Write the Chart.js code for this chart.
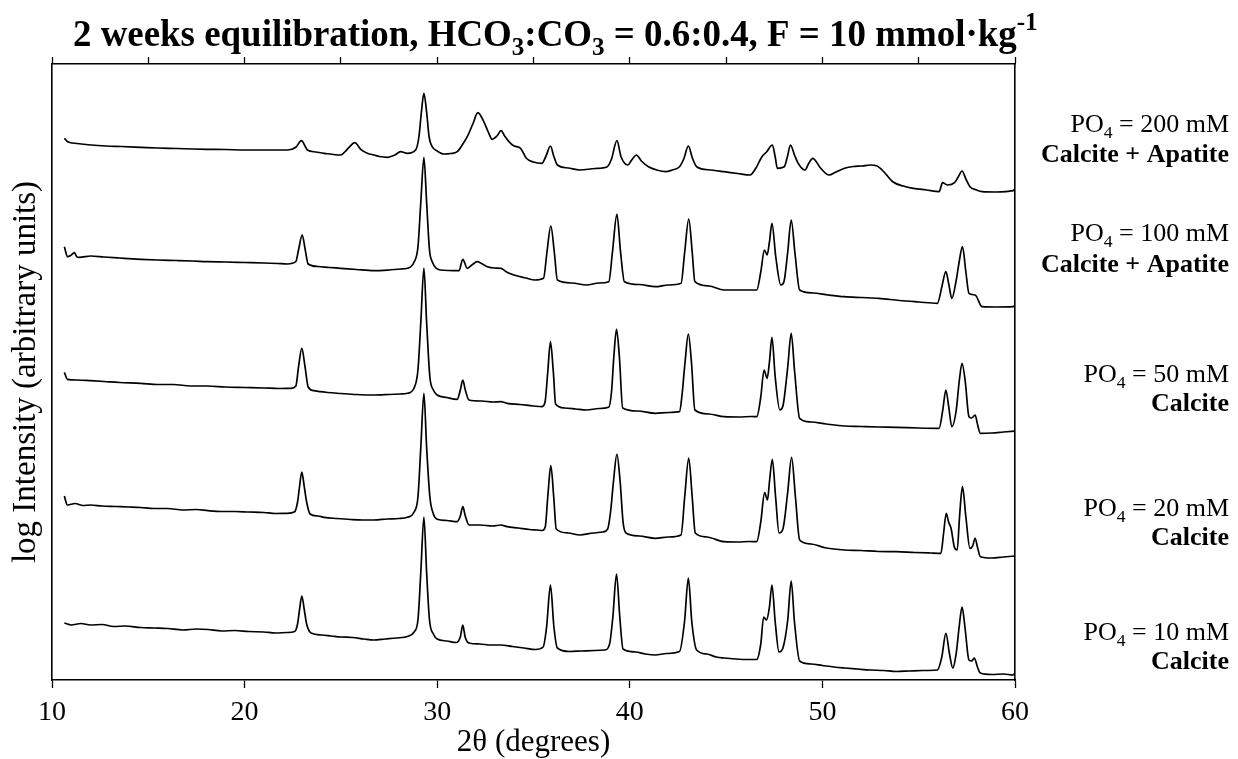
<!DOCTYPE html>
<html>
<head>
<meta charset="utf-8">
<script src="https://cdn.jsdelivr.net/npm/chart.js@4.4.0/dist/chart.umd.min.js"></script>
<style>
  body { margin: 0; background: #fff; }
  canvas { display: block; }
</style>
</head>
<body>
<canvas id="xrd" width="1238" height="759"></canvas>
<script>
// 2-theta / log-intensity pairs (offset stacked, arbitrary units)
const po4_10 = [
  [10.64, 59], [11.0, 57], [11.5, 58.5], [12.0, 57], [12.6, 57.5], [13.2, 55.5], [13.8, 56], [14.6, 54.5],
  [15.3, 54], [16.0, 53.5], [16.8, 52], [17.5, 53], [18.1, 52.5], [18.8, 51], [19.5, 51.5], [20.2, 50.5],
  [21.0, 50], [21.6, 49], [22.2, 49.5], [22.6, 50.5], [22.75, 58], [22.85, 72], [22.97, 86], [23.1, 72],
  [23.22, 58], [23.45, 49], [24.0, 47], [24.5, 46], [25.0, 45], [25.6, 44.5], [26.2, 43], [26.7, 42],
  [27.3, 43], [27.9, 44], [28.45, 45.5], [28.8, 50], [29.0, 62], [29.15, 110], [29.31, 165], [29.45, 110],
  [29.6, 62], [29.8, 48], [30.0, 43], [30.5, 41], [31.0, 39.5], [31.2, 45], [31.33, 57], [31.45, 45],
  [31.65, 39], [32.2, 38], [32.8, 37], [33.3, 37], [33.9, 35.5], [34.5, 34], [35.1, 32.5], [35.5, 35],
  [35.68, 55], [35.88, 97], [36.06, 55], [36.24, 34], [36.86, 30.5], [37.5, 31], [38.2, 31.5], [38.7, 32],
  [38.95, 38], [39.12, 65], [39.31, 108], [39.48, 65], [39.65, 33], [40.3, 30], [40.8, 28], [41.33, 27],
  [41.9, 28.5], [42.58, 30.5], [42.84, 60], [43.04, 104], [43.22, 60], [43.47, 32], [44.0, 28], [44.5, 25],
  [44.9, 24], [45.5, 23], [46.1, 22.5], [46.59, 22.5], [46.8, 38], [46.95, 65], [47.1, 62], [47.25, 75],
  [47.38, 97], [47.55, 60], [47.75, 30], [47.95, 34], [48.2, 62], [48.38, 101], [48.55, 60], [48.82, 21],
  [49.4, 18], [50.0, 16.5], [50.6, 15], [51.15, 14], [51.8, 13], [52.5, 12], [53.2, 11.5], [53.83, 10.5],
  [54.5, 11], [55.2, 11.5], [55.97, 12], [56.2, 25], [56.41, 48.7], [56.6, 28], [56.77, 14], [56.95, 29],
  [57.1, 55], [57.25, 75], [57.4, 55], [57.61, 22], [57.75, 21], [57.89, 24], [58.05, 15], [58.2, 9],
  [58.8, 7.5], [59.4, 8], [59.9, 7], [60.0, 9]
];

const po4_20 = [
  [10.64, 186], [10.8, 177], [11.2, 178.5], [11.6, 176.5], [12.0, 177], [12.6, 176], [13.3, 175.5], [14.0, 175],
  [14.6, 174.5], [15.3, 173.5], [16.0, 173.5], [16.8, 172], [17.5, 172.5], [18.1, 171.3], [18.8, 170.5], [19.5, 170.5],
  [20.2, 170], [21.0, 169.5], [21.6, 168.5], [22.2, 168.7], [22.6, 170.3], [22.75, 180], [22.85, 195], [22.97, 210],
  [23.1, 195], [23.22, 180], [23.4, 168], [23.8, 166], [24.13, 164.7], [24.8, 163.5], [25.5, 162.5], [26.1, 162],
  [26.72, 162], [27.4, 163], [28.0, 163.5], [28.45, 164.7], [28.8, 170], [29.0, 185], [29.15, 235], [29.31, 288.7],
  [29.45, 235], [29.62, 185], [29.8, 168], [30.0, 162.7], [30.5, 161.5], [31.04, 160.3], [31.2, 166], [31.33, 175.3],
  [31.46, 166], [31.65, 157], [32.2, 157], [32.9, 156], [33.3, 157], [33.63, 155.3], [34.2, 154], [34.8, 152.5],
  [35.2, 152], [35.45, 151.5], [35.61, 155], [35.74, 185], [35.9, 216.3], [36.05, 185], [36.18, 153], [36.8, 149],
  [37.4, 147], [38.1, 149], [38.6, 150], [38.85, 153], [39.0, 170], [39.15, 200], [39.33, 227.7], [39.5, 200],
  [39.65, 160], [39.8, 149], [40.5, 146], [41.33, 143.7], [42.0, 145], [42.66, 147], [42.85, 185], [43.06, 224],
  [43.24, 185], [43.4, 149], [44.0, 145], [44.9, 140.3], [45.6, 140], [46.2, 140.5], [46.59, 140.3], [46.8, 160],
  [47.0, 189.3], [47.15, 182], [47.25, 200], [47.4, 222.7], [47.57, 185], [47.75, 149], [47.95, 153], [48.2, 190],
  [48.4, 224.7], [48.6, 185], [48.82, 142], [49.4, 138], [50.2, 134], [51.15, 132], [52.0, 131.5], [52.9, 130.5],
  [53.83, 130.3], [54.8, 129.5], [55.6, 129], [56.15, 128.7], [56.3, 150], [56.43, 168.7], [56.55, 160], [56.68, 153.7],
  [56.85, 135], [57.0, 132], [57.12, 165], [57.27, 195.3], [57.45, 165], [57.66, 133.7], [57.8, 136], [57.93, 143.7],
  [58.05, 135], [58.2, 125.3], [58.8, 124], [59.4, 125], [60.0, 126]
];

const po4_50 = [
  [10.64, 309.7], [10.8, 302.7], [11.3, 302], [12.0, 301.3], [12.7, 300.5], [13.5, 299.5], [14.6, 298.7], [15.5, 297.5],
  [16.3, 297.5], [17.2, 296], [18.07, 296], [19.0, 295], [20.0, 294.5], [21.0, 294], [21.8, 293.5], [22.4, 293.7],
  [22.66, 296], [22.8, 315], [22.97, 333.7], [23.14, 315], [23.3, 295], [23.61, 291.3], [24.3, 289.5], [25.0, 288.5],
  [25.8, 287.5], [26.72, 287], [27.5, 287.5], [28.1, 288], [28.45, 288.7], [28.8, 294], [29.0, 312], [29.15, 360],
  [29.31, 414], [29.45, 360], [29.62, 305], [29.8, 292], [30.0, 287], [30.5, 284.5], [31.04, 282.7], [31.2, 292],
  [31.33, 302], [31.46, 292], [31.65, 282], [32.3, 281], [32.9, 280], [33.3, 280.3], [33.63, 278.7], [34.3, 277.5],
  [35.0, 276], [35.43, 275.3], [35.6, 280], [35.74, 310], [35.88, 340.3], [36.03, 310], [36.15, 278], [36.6, 274],
  [37.2, 273], [37.75, 272], [38.4, 273.5], [38.9, 274.7], [39.05, 290], [39.17, 325], [39.31, 352.7], [39.46, 325],
  [39.63, 274], [40.4, 271], [41.33, 268.7], [42.0, 269.5], [42.58, 270.3], [42.7, 285], [42.87, 320], [43.04, 348],
  [43.2, 320], [43.38, 272], [44.1, 268], [44.9, 265.3], [45.7, 265], [46.3, 265.5], [46.59, 265.3], [46.8, 285],
  [46.97, 312], [47.13, 303.7], [47.25, 320], [47.38, 344.7], [47.55, 305], [47.79, 272], [47.95, 276], [48.2, 315],
  [48.38, 348.7], [48.56, 310], [48.82, 263.7], [49.4, 260], [50.2, 258], [51.15, 256], [52.0, 255.5], [52.9, 255],
  [53.83, 254.7], [55.0, 254], [56.06, 253.7], [56.25, 272], [56.41, 292], [56.56, 275], [56.72, 255.3], [56.95, 272],
  [57.1, 300], [57.25, 318.7], [57.42, 300], [57.61, 265.3], [57.75, 264], [57.93, 267], [58.05, 258], [58.2, 248.7],
  [58.8, 249], [59.4, 250], [60.0, 251]
];

const po4_100 = [
  [10.64, 435.3], [10.81, 425.3], [11.0, 427], [11.16, 429.3], [11.3, 425], [11.42, 424.7], [12.02, 426], [12.7, 425],
  [13.5, 424], [14.62, 422.7], [15.5, 422], [16.5, 421.5], [17.3, 421], [18.07, 420.3], [19.0, 420], [20.0, 419.5],
  [21.0, 419], [21.7, 418.5], [22.22, 418], [22.66, 420.3], [22.8, 432], [22.99, 447], [23.15, 432], [23.3, 418],
  [23.8, 415.5], [24.4, 414.5], [24.99, 413.7], [25.8, 412.5], [26.72, 411.3], [27.5, 412], [28.1, 413], [28.45, 413.7],
  [28.8, 420], [29.0, 435], [29.15, 480], [29.31, 524.7], [29.45, 480], [29.6, 432], [29.74, 420.3], [30.17, 412],
  [30.6, 411.5], [31.13, 411.3], [31.33, 422.7], [31.56, 413.7], [31.8, 417], [32.08, 420.3], [32.3, 418.5], [32.6, 415.3],
  [33.0, 414], [33.32, 413.7], [33.6, 410], [33.98, 407], [34.6, 404], [35.08, 402], [35.52, 403.7], [35.7, 430],
  [35.9, 456], [36.08, 430], [36.24, 402], [37.0, 399], [37.75, 397], [38.4, 399], [38.91, 400.3], [39.1, 430],
  [39.33, 467.7], [39.52, 430], [39.72, 400.3], [40.5, 397.5], [41.33, 395.3], [42.0, 397], [42.66, 398.7], [42.85, 430],
  [43.06, 463], [43.24, 430], [43.38, 400.3], [44.1, 396], [44.9, 392], [45.8, 392], [46.59, 392], [46.8, 410],
  [46.99, 432], [47.13, 427], [47.25, 440], [47.38, 458.7], [47.58, 425], [47.84, 397], [48.0, 400], [48.2, 430],
  [48.38, 462], [48.58, 428], [48.82, 392], [49.5, 389], [50.3, 387], [51.15, 385.3], [52.0, 384.5], [52.93, 383.7],
  [54.0, 381.5], [55.0, 380], [55.97, 378.7], [56.2, 395], [56.41, 410.3], [56.56, 398], [56.72, 383.7], [56.95, 402],
  [57.1, 420], [57.27, 435.3], [57.45, 410], [57.61, 388.7], [57.93, 387], [58.29, 375.3], [59.0, 375], [59.9, 375.3],
  [60.0, 377]
];

const po4_200 = [
  [10.64, 543.7], [10.81, 540.3], [11.3, 538.5], [12.02, 537], [12.8, 536], [13.6, 535.5], [14.62, 534.7], [15.5, 534],
  [16.5, 533.5], [17.3, 533], [18.07, 532.7], [19.0, 532.5], [20.0, 532], [21.0, 532], [21.8, 532], [22.22, 532],
  [22.66, 534.7], [22.95, 541.3], [23.26, 532], [23.7, 530], [24.13, 528.7], [24.99, 527], [25.2, 530], [25.42, 534.7],
  [25.72, 539.3], [26.03, 532.7], [26.4, 528.5], [26.72, 527], [27.0, 525.5], [27.41, 524.7], [27.8, 527], [28.1, 530.3],
  [28.45, 528.7], [28.88, 532], [29.05, 545], [29.18, 570], [29.31, 588.7], [29.45, 570], [29.58, 545], [29.74, 535.3],
  [30.0, 531], [30.35, 528], [30.7, 528.5], [31.04, 530.3], [31.3, 537], [31.56, 545.3], [31.85, 558], [32.11, 569.3],
  [32.42, 560.3], [32.65, 550], [32.86, 542.7], [33.1, 546], [33.32, 551.3], [33.5, 546], [33.81, 538.7], [34.0, 536],
  [34.33, 533.7], [34.63, 523.7], [35.0, 520], [35.43, 518.7], [35.65, 526], [35.88, 536], [36.05, 526], [36.24, 517],
  [36.8, 514], [37.4, 512], [38.2, 513.5], [38.83, 515.3], [39.05, 523], [39.33, 541.3], [39.55, 525], [39.9, 517],
  [40.1, 522], [40.34, 527], [40.6, 521], [40.97, 515.3], [41.4, 512], [41.86, 510.3], [42.2, 512], [42.58, 515.3],
  [42.8, 523], [43.04, 536], [43.25, 524], [43.47, 515.3], [44.2, 512], [44.9, 510.3], [45.6, 508.5], [46.24, 507],
  [46.55, 514], [46.86, 525.3], [47.1, 530], [47.4, 537], [47.55, 525], [47.66, 513.7], [48.02, 515.3], [48.18, 525],
  [48.34, 537], [48.55, 527], [48.74, 518.7], [49.09, 512], [49.3, 519], [49.5, 523.7], [49.9, 514], [50.34, 507],
  [50.7, 510], [51.15, 513.7], [51.6, 515.5], [52.04, 516], [52.5, 517], [52.84, 516], [53.2, 510], [53.65, 500.3],
  [54.2, 496], [54.72, 493.7], [55.4, 492], [56.06, 490.3], [56.24, 499.3], [56.5, 497], [56.86, 499.3], [57.05, 505],
  [57.25, 511], [57.45, 503], [57.66, 495.3], [58.0, 492], [58.29, 490.3], [59.0, 490], [59.9, 491.3], [60.0, 493]
];

const sampleTraces = [po4_10, po4_20, po4_50, po4_100, po4_200];
const sampleConc = ["10", "20", "50", "100", "200"];
const samplePhase = ["Calcite", "Calcite", "Calcite", "Calcite + Apatite", "Calcite + Apatite"];
const labelBaselines = [[640, 669], [516, 545], [382, 411], [241, 272], [132, 162]];

const xMin = 10, xMax = 60;
const bottomTicks = [10, 20, 30, 40, 50, 60];

const SERIF = '"Liberation Serif", "Times New Roman", serif';

// draws text runs with sub/superscripts, returns total width
function richWidth(ctx, parts, size, bold) {
  let w = 0;
  for (const [t, kind] of parts) {
    const s = kind ? size * 0.68 : size;
    ctx.font = (bold ? "bold " : "") + s + "px " + SERIF;
    w += ctx.measureText(t).width;
  }
  return w;
}
function drawRich(ctx, parts, x, y, size, bold, align) {
  const w = richWidth(ctx, parts, size, bold);
  let cx = align === "right" ? x - w : align === "center" ? x - w / 2 : x;
  ctx.textAlign = "left";
  ctx.textBaseline = "alphabetic";
  for (const [t, kind] of parts) {
    const s = kind ? size * 0.68 : size;
    ctx.font = (bold ? "bold " : "") + s + "px " + SERIF;
    const dy = kind === "sub" ? size * 0.24 : kind === "sup" ? -size * 0.42 : 0;
    ctx.fillText(t, cx, y + dy);
    cx += ctx.measureText(t).width;
  }
}

const textPlugin = {
  id: "xrdText",
  afterDraw(chart) {
    const ctx = chart.ctx;
    const area = chart.chartArea;
    ctx.save();
    ctx.fillStyle = "#000";

    // title, fitted to the width it takes in the figure
    const titleParts = [["2 weeks equilibration, HCO", ""], ["3", "sub"], [":CO", ""], ["3", "sub"],
      [" = 0.6:0.4, F = 10 mmol\u00B7kg", ""], ["-1", "sup"]];
    let ts = 34;
    ts = ts * 965 / richWidth(ctx, titleParts, ts, true);
    drawRich(ctx, titleParts, 73, 46, ts, true, "left");

    // sample labels on the right
    sampleConc.forEach((c, i) => {
      const [b1, b2] = labelBaselines[i];
      drawRich(ctx, [["PO", ""], ["4", "sub"], [" = " + c + " mM", ""]], 1229, b1, 26, false, "right");
      drawRich(ctx, [[samplePhase[i], ""]], 1229, b2, 26, true, "right");
    });

    // axis titles
    const cx = (area.left + area.right) / 2;
    drawRich(ctx, [["2\u03B8 (degrees)", ""]], cx, 751, 31, false, "center");
    ctx.translate(35, (area.top + area.bottom) / 2);
    ctx.rotate(-Math.PI / 2);
    drawRich(ctx, [["log Intensity (arbitrary units)", ""]], 0, 0, 33, false, "center");
    ctx.restore();
  }
};

const datasets = sampleTraces.map((trace, i) => ({
  label: "PO4 = " + sampleConc[i] + " mM",
  data: trace.map(([x, y]) => ({ x, y })),
  borderColor: "#000",
  borderWidth: 1.7,
  pointRadius: 0,
  fill: false,
  cubicInterpolationMode: "monotone",
  xAxisID: "x",
  yAxisID: "y"
}));

new Chart(document.getElementById("xrd"), {
  type: "line",
  data: { datasets },
  plugins: [textPlugin],
  options: {
    responsive: false,
    animation: false,
    devicePixelRatio: 1,
    layout: { padding: { left: 52, right: 223, top: 64, bottom: 0 } },
    plugins: { legend: { display: false }, tooltip: { enabled: false }, title: { display: false } },
    scales: {
      x: {
        type: "linear", position: "bottom", min: xMin, max: xMax,
        afterBuildTicks: (s) => { s.ticks = bottomTicks.map(v => ({ value: v })); },
        afterFit: (s) => { s.height = 79; },
        ticks: { color: "#000", padding: 8, font: { family: SERIF, size: 28 }, maxRotation: 0 },
        grid: { drawOnChartArea: false, tickLength: 8, color: "#000", tickWidth: 1.3 },
        border: { color: "#000", width: 1.6 }
      },
      x2: {
        type: "linear", position: "top", min: xMin, max: xMax,
        afterFit: (s) => { s.height = 0; },
        ticks: { display: false, stepSize: 5 },
        grid: { drawOnChartArea: false, tickLength: 7, color: "#000", tickWidth: 1.3 },
        border: { color: "#000", width: 1.6 }
      },
      y: {
        type: "linear", position: "left", min: 2, max: 618,
        afterFit: (s) => { s.width = 0; },
        ticks: { display: false },
        grid: { display: false },
        border: { color: "#000", width: 1.6 }
      },
      y2: {
        type: "linear", position: "right", min: 2, max: 618,
        afterFit: (s) => { s.width = 0; },
        ticks: { display: false },
        grid: { display: false },
        border: { color: "#000", width: 1.6 }
      }
    }
  }
});
</script>
</body>
</html>
